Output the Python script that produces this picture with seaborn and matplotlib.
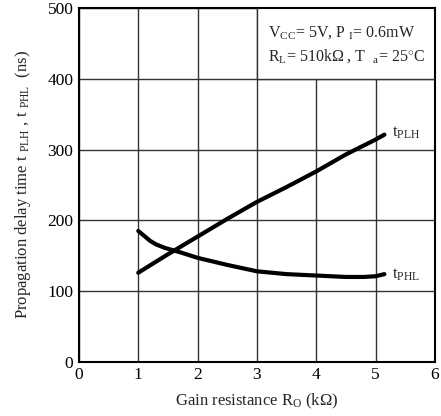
import matplotlib
matplotlib.use("Agg")
import matplotlib.pyplot as plt
import seaborn as sns
import pandas as pd
from matplotlib.patches import Rectangle

# Data
plh_x = [1.0, 1.5, 2.0, 2.5, 3.0, 3.5, 4.0, 4.5, 5.0, 5.15]
plh_y = [126, 152, 177, 202, 226, 247, 269, 293, 314, 321]
phl_x = [1.0, 1.1, 1.2, 1.3, 1.45, 1.7, 2.0, 2.5, 3.0, 3.5, 4.0, 4.5, 4.8, 5.0, 5.15]
phl_y = [185, 178, 171, 166, 161, 155, 147, 137, 128, 124, 122, 120, 120, 121, 124]
x_ticks = [0, 1, 2, 3, 4, 5, 6]
y_ticks = [0, 100, 200, 300, 400, 500]

sns.set_theme(style="white")
plt.rcParams['font.family'] = ['Liberation Serif', 'DejaVu Serif']
plt.rcParams['mathtext.fontset'] = 'custom'
plt.rcParams['mathtext.rm'] = 'Liberation Serif'
plt.rcParams['mathtext.it'] = 'Liberation Serif:italic'

fig = plt.figure(figsize=(4.41, 4.16), dpi=100)
ax = fig.add_axes([0.179, 0.130, 0.807, 0.851])

df1 = pd.DataFrame({"x": plh_x, "y": plh_y})
df2 = pd.DataFrame({"x": phl_x, "y": phl_y})
sns.lineplot(data=df1, x="x", y="y", ax=ax, color="black", lw=3, zorder=5, sort=False)
sns.lineplot(data=df2, x="x", y="y", ax=ax, color="black", lw=3, zorder=5, sort=False)

ax.set_xlim(0, 6)
ax.set_ylim(0, 500)
ax.set_xticks(x_ticks)
ax.set_yticks(y_ticks)
ax.tick_params(axis='both', labelsize=12.5, length=0, pad=4, colors='black')
ax.grid(True, color='#333333', lw=1.0)
ax.set_axisbelow(True)
for s in ax.spines.values():
    s.set_color('black')
    s.set_linewidth(1.5)

# white box covering grid in annotation region
ax.add_patch(Rectangle((3, 400), 3, 100, facecolor='white', edgecolor='none', zorder=2))
ax.plot([3, 6], [400, 400], color='#333333', lw=1.0, zorder=3)
ax.plot([3, 3], [400, 500], color='#333333', lw=1.0, zorder=3)

ax.text(3.18, 465, r"V$_{\mathrm{CC}}$= 5V, P $_{\mathrm{I}}$= 0.6mW", fontsize=11.5, va='center', zorder=4)
ax.text(3.18, 432, r"R$_{\mathrm{L}}$= 510k$\Omega$ , T  $_{\mathrm{a}}$= 25$^{\circ}$C", fontsize=11.5, va='center', zorder=4)

ax.text(5.27, 324, r"t$_{\mathrm{PLH}}$", fontsize=12, va='center')
ax.text(5.27, 123, r"t$_{\mathrm{PHL}}$", fontsize=12, va='center')

ax.set_xlabel(r"Gain resistance R$_{\mathrm{O}}$ (k$\Omega$)", fontsize=12, labelpad=6)
ax.set_ylabel(r"Propagation delay time t $_{\mathrm{PLH}}$ , t $_{\mathrm{PHL}}$  (ns)", fontsize=12, labelpad=10)

fig.savefig("out.png", dpi=100)
